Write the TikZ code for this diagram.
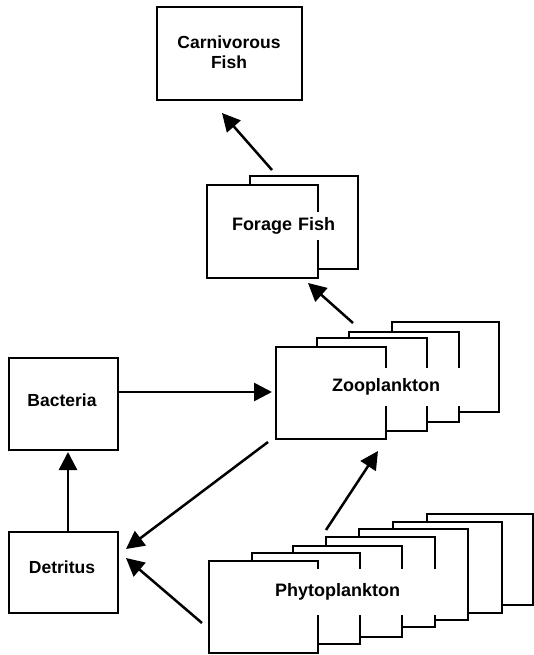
\documentclass[tikz,border=0pt]{standalone}
\usepackage{fontspec}
\setmainfont{Liberation Sans}
\usetikzlibrary{arrows.meta}
\tikzset{
  box/.style={draw=black, fill=white, line width=2.5pt, inner sep=0pt, minimum width=#1},
  box/.default=109pt,
  lbl/.style={font=\fontsize{17.5}{20.5}\selectfont\bfseries, inner sep=0pt, align=center},
  mask/.style={fill=white, inner ysep=0pt, inner xsep=2pt, align=left, font=\fontsize{18}{21}\selectfont\bfseries},
  flow/.style={line width=2.5pt, -{Triangle[length=18pt,width=18pt]}}
}
\begin{document}
\begin{tikzpicture}[x=1pt,y=-1pt]
\useasboundingbox[fill=white] (0,0) rectangle (534,655);
% Carnivorous fish
\node[box=145pt, minimum height=93pt] (carn) at (229.5,53.5) {};
\node[lbl] (carnt) at (229,52) {Carnivorous\\Fish};
% Forage fish
\node[box=108pt, minimum height=93pt] (forb) at (304,222.5) {};
\node[box=111pt, minimum height=93pt] (forf) at (262.5,231.5) {};
\node[mask, text width=106pt, minimum height=28pt] (fort) at (285,226) {Forage Fish};
% Zooplankton
\node[box=107pt, minimum height=90pt] (zoo4) at (445.5,367) {};
\node[box=110pt, minimum height=90pt] (zoo3) at (404,377) {};
\node[box=110pt, minimum height=93pt] (zoo2) at (372,384.5) {};
\node[box=110pt, minimum height=92pt] (zoo1) at (331,393) {};
\node[mask, text width=131pt, minimum height=38pt] (zoot) at (397.5,387) {Zooplankton};
% Bacteria and Detritus
\node[box=109pt, minimum height=92pt] (bact) at (63.5,404) {};
\node[lbl] (bactt) at (62,400) {Bacteria};
\node[box=109pt, minimum height=81pt] (detr) at (63.5,572.5) {};
\node[lbl] (detrt) at (62,567) {Detritus};
% Phytoplankton
\node[box=106pt, minimum height=91pt] (phy7) at (480,559.5) {};
\node[box=109pt, minimum height=91pt] (phy6) at (447.5,567.5) {};
\node[box=109pt, minimum height=91pt] (phy5) at (413.5,574.5) {};
\node[box=109pt, minimum height=90pt] (phy4) at (380.5,582) {};
\node[box=109pt, minimum height=91pt] (phy3) at (347.5,591.5) {};
\node[box=108pt, minimum height=91pt] (phy2) at (306,598.5) {};
\node[box=109pt, minimum height=92pt] (phy1) at (263.5,607) {};
\node[mask, text width=163pt, minimum height=46pt] (phyt) at (356.5,592) {Phytoplankton};
% connector end points
\coordinate (c1) at (272,170); \coordinate (c2) at (222,113);
\coordinate (z1) at (353,323); \coordinate (z2) at (308,283);
\coordinate (b1) at (118,392); \coordinate (b2) at (272,392);
\coordinate (d1) at (68,532);  \coordinate (d2) at (68,452);
\coordinate (zd1) at (268,442); \coordinate (zd2) at (126,549);
\coordinate (pd1) at (202,623); \coordinate (pd2) at (126,558);
\coordinate (pz1) at (326,530); \coordinate (pz2) at (378,451);
\draw[flow] (c1) -- (c2);
\draw[flow] (z1) -- (z2);
\draw[flow] (b1) -- (b2);
\draw[flow] (d1) -- (d2);
\draw[flow] (zd1) -- (zd2);
\draw[flow] (pd1) -- (pd2);
\draw[flow] (pz1) -- (pz2);
\end{tikzpicture}
\end{document}
